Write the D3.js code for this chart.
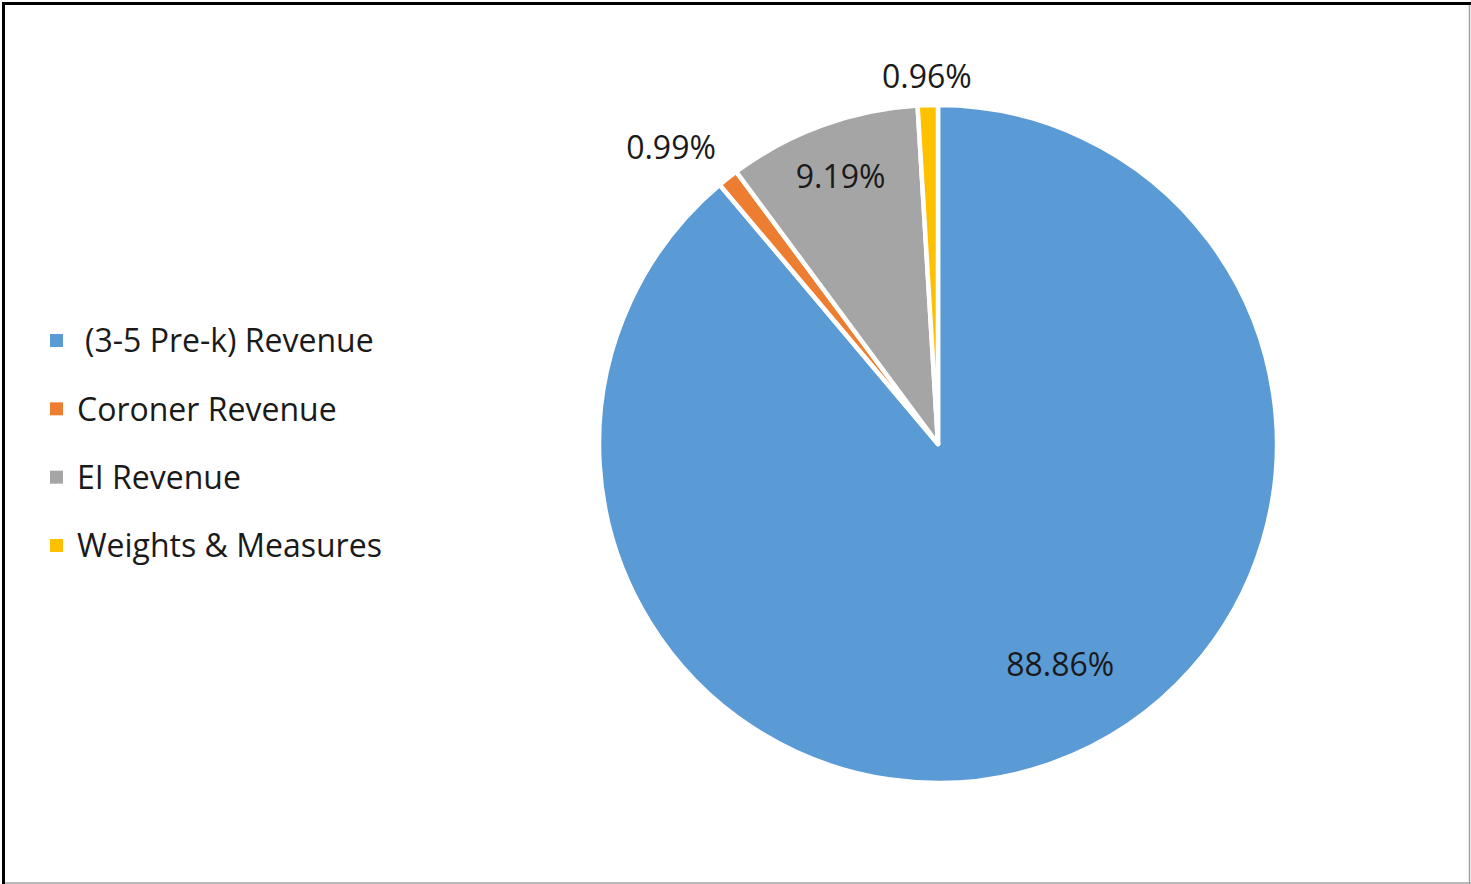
<!DOCTYPE html>
<html><head><meta charset="utf-8">
<script src="https://cdn.jsdelivr.net/npm/d3@7"></script>
<style>html,body{margin:0;padding:0;background:#fff;overflow:hidden}</style>
</head><body>
<svg id="chart" width="1471" height="884"></svg>
<script>
const categories = ["(3-5 Pre-k) Revenue", "Coroner Revenue", "EI Revenue", "Weights & Measures"];
const values = [88.86, 0.99, 9.19, 0.96];
const labels = ["88.86%", "0.99%", "9.19%", "0.96%"];
const colors = ["#5B9BD5", "#ED7D31", "#A5A5A5", "#FFC000"];

const svg = d3.select("#chart");
const W = 1471, H = 884;
const font = "'Open Sans', sans-serif";

// border
svg.append("rect").attr("x", 0).attr("y", 0).attr("width", W).attr("height", H).attr("fill", "#fff");
svg.append("line").attr("x1", 1469.5).attr("x2", 1469.5).attr("y1", 2).attr("y2", 884).attr("stroke", "#a0a0a0").attr("stroke-width", 1.5);
svg.append("line").attr("x1", 2).attr("x2", 1471).attr("y1", 883).attr("y2", 883).attr("stroke", "#a0a0a0").attr("stroke-width", 1.5);
svg.append("path").attr("d", "M3.5,884 V3.5 H1471").attr("fill", "none").attr("stroke", "#000").attr("stroke-width", 3);

const cx = 938, cy = 444, r = 339;
const pie = d3.pie().sort(null).value(d => d)(values);
const arc = d3.arc().innerRadius(0).outerRadius(r);
const g = svg.append("g").attr("transform", `translate(${cx},${cy})`);
g.selectAll("path").data(pie).join("path")
  .attr("d", arc).attr("fill", (d, i) => colors[i])
  .attr("stroke", "#fff").attr("stroke-width", 4.5).attr("stroke-linejoin", "round");

// label placement (layout: radius factor and pixel nudge per slice)
const labelRadius = [0.75, 1.175, 0.84, 1.085];
const labelNudge = [[35, -18], [-20, 16], [0, 0], [0, 0]];
const labelPos = (d, i) => {
  const c = d3.arc().innerRadius(r * labelRadius[i]).outerRadius(r * labelRadius[i]).centroid(d);
  return [c[0] + labelNudge[i][0], c[1] + labelNudge[i][1]];
};
g.selectAll("text.lbl").data(pie).join("text").attr("class", "lbl")
  .attr("transform", (d, i) => { const p = labelPos(d, i); return `translate(${p[0]},${p[1]})`; })
  .attr("text-anchor", "middle").attr("dy", "0.35em")
  .attr("font-family", font).attr("font-size", 32).attr("fill", "#1a1a1a")
  .text((d, i) => labels[i]);

// legend
const ly = d3.scalePoint().domain(categories).range([341, 546]);
const leg = svg.append("g");
leg.selectAll("rect").data(categories).join("rect")
  .attr("x", 50).attr("y", d => ly(d) - 7).attr("width", 13).attr("height", 13)
  .attr("fill", (d, i) => colors[i]);
leg.selectAll("text").data(categories).join("text")
  .attr("x", (d, i) => i === 0 ? 85 : 77).attr("y", d => ly(d)).attr("dy", "0.35em")
  .attr("font-family", font).attr("font-size", 32).attr("fill", "#1a1a1a")
  .text(d => d);
</script>
</body></html>
